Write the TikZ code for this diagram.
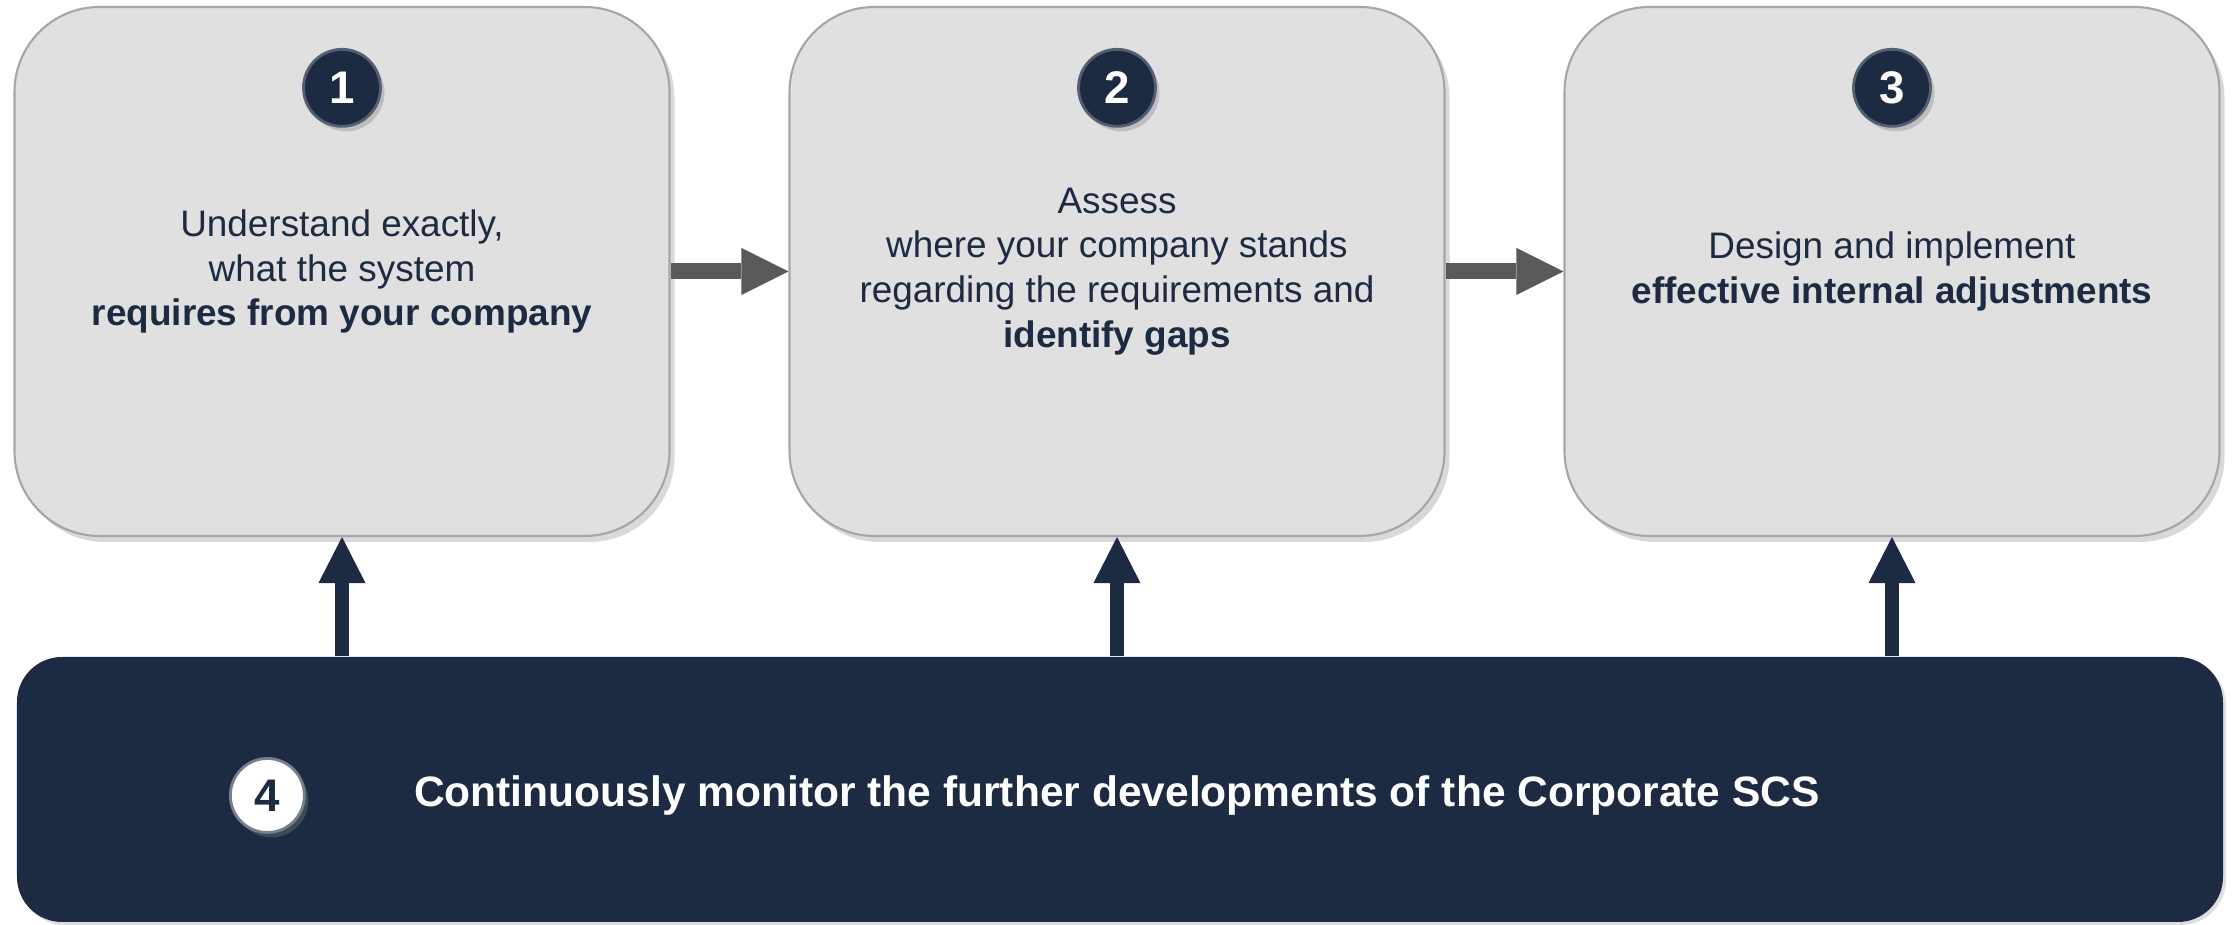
\documentclass[tikz,border=0pt]{standalone}
\usepackage{fontspec}
\setmainfont{Liberation Sans}
\usepackage{xcolor}
\usepackage{tikz}
\usetikzlibrary{arrows.meta,shadows}
\usetikzlibrary{calc}
\usetikzlibrary{positioning}

\definecolor{navy}{HTML}{1C2A42}
\definecolor{boxgray}{HTML}{E0E0E0}
\definecolor{rimgray}{HTML}{A6A6A6}
\definecolor{arrowgray}{HTML}{58595B}

\begin{document}
\begin{tikzpicture}[-,auto,node distance=7.75cm, semithick]
 				 \tikzstyle{stepbox}=[rectangle, rounded corners=0.85cm, fill=boxgray, draw=rimgray, line width=0.6pt, minimum width=6.55cm, minimum height=5.29cm, text=navy, align=center, font=\fontsize{10.5}{12.7}\selectfont, drop shadow={opacity=0.3, shadow xshift=0.05cm, shadow yshift=-0.06cm}]
 				 \tikzstyle{numdot}=[circle, fill=navy, draw=navy!75!white, line width=0.8pt, minimum size=0.77cm, inner sep=0pt, text=white, font=\fontsize{13}{13}\selectfont\bfseries, drop shadow={opacity=0.35, shadow xshift=0.04cm, shadow yshift=-0.05cm}]
 				 \tikzstyle{whitedot}=[numdot, fill=white, draw=navy!60!white, text=navy, minimum size=0.74cm]
 				 \tikzstyle{monitorbar}=[rectangle, rounded corners=0.45cm, fill=navy, minimum width=22.06cm, minimum height=2.65cm, drop shadow={opacity=0.25, shadow xshift=0.03cm, shadow yshift=-0.03cm}]
 				 \tikzstyle{monitortext}=[text=white, font=\fontsize{12.1}{14}\selectfont\bfseries]
 				 \tikzstyle{hop}=[arrowgray, line width=0.16cm, -{Triangle[length=0.47cm, width=0.47cm, line width=0pt]}]
 				 \tikzstyle{feed}=[navy, line width=0.14cm, -{Triangle[length=0.46cm, width=0.47cm, line width=0pt]}]
 				 \useasboundingbox (0,0) rectangle (22.36,9.25);
 					 \node[stepbox] 		(A) at (3.42,6.535)	{Understand exactly,\\what the system\\\textbf{requires from your company}};
 					 \node[stepbox] 		(B) [right of=A]	{Assess\\where your company stands\\regarding the requirements and\\\textbf{identify gaps}};
 					 \node[stepbox] 		(C) [right of=B]	{Design and implement\\\textbf{effective internal adjustments}};
 					 \node[monitorbar] 	(M) at (11.20,1.355)	{};
 					 \node[numdot]  		(N1) [below=0.42cm of A.north] {1};
 					 \node[numdot]  		(N2) [below=0.42cm of B.north] {2};
 					 \node[numdot]  		(N3) [below=0.42cm of C.north] {3};
 					 \node[whitedot]		(N4) [right=2.13cm of M.west, yshift=-0.06cm] {4};
 					 \node[monitortext]	(T4) at (B |- N4) {Continuously monitor the further developments of the Corporate SCS};
				\path
				(A) edge [hop] (B)
				(B) edge [hop] (C)
				(A.south |- M.north) edge [feed] (A.south)
				(B.south |- M.north) edge [feed] (B.south)
				(C.south |- M.north) edge [feed] (C.south);
\end{tikzpicture}
\end{document}
